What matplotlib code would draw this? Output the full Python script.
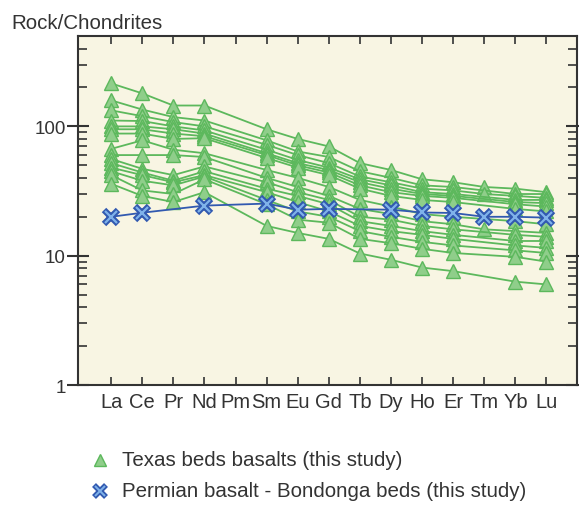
import numpy as np
import matplotlib
matplotlib.use("Agg")
import matplotlib.pyplot as plt
from matplotlib.ticker import LogLocator, NullFormatter, FixedLocator

plt.rcParams['font.family'] = ['Liberation Sans', 'DejaVu Sans']

elements = ["La", "Ce", "Pr", "Nd", "Pm", "Sm", "Eu", "Gd", "Tb", "Dy", "Ho", "Er", "Tm", "Yb", "Lu"]
nan = np.nan

# chondrite-normalised REE, one row per Texas beds sample (Pm never measured, Tm only on a few)
texas = [
    [215, 180, 145, 145, nan, 95, 80, 70, 52, 46, 39, 37, 34, 33, 31],
    [159, 135, 118, 111, nan, 78, 64, 58, 45, 40, 35, 34, nan, 30, 30],
    [133, 120, 108, 100, nan, 72, 60, 52, 41, 37, 33, 32, 30, 29, 28],
    [111, 110, 100, 93, nan, 66, 55, 48, 39, 35, 31, 30, nan, 27, 27],
    [100, 100, 95, 88, nan, 62, 52, 46, 37, 33, 30, 29, nan, 26, 25.5],
    [95, 95, 88, 84, nan, 60, 50, 44, 35, 31, 29, 28, nan, 25, 24],
    [88, 88, 80, 81, nan, 57, 48, 42, 33, 29, 27, 26, nan, 23, 22],
    [67, 78, 66, 62, nan, 46, 40, 34, 27, 24, 21, 20, nan, 18.5, 17.5],
    [60, 60, 60, 58, nan, 40, 34, 29, 23, 21, 18.5, 17.5, 16, 15.5, 15],
    [56, 47, 42, 49, nan, 37, 31, 27, 20, 19, 17, 16, nan, 14.5, 14],
    [52, 44, 38, 45, nan, 33, 29, 25, 18.5, 17, 15.5, 14.5, nan, 13, 13],
    [48, 42, 37, 42, nan, 31, 26, 22, 17, 15.5, 14.5, 13.5, nan, 12, 11.5],
    [45, 38, 35, 41, nan, 27, 22, 20, 15.5, 14, 12.8, 12, nan, 11, 10.5],
    [42, 32, 30, 39, nan, 25, 19, 18, 13.5, 12.5, 11.3, 10.5, nan, 9.8, 9],
    [36, 29, 26, 31, nan, 17, 15, 13.5, 10.4, 9.3, 8.1, 7.6, nan, 6.3, 6],
]
bondonga = [20, 21.5, nan, 24.4, nan, 25.3, 22.7, 23, nan, 22.7, 21.6, 21.4, 20, 20, 19.7]

green_line = "#5cb85c"
green_face = "#8fce8a"
blue_line = "#3159b0"
blue_face = "#7fb2ea"
ink = "#333333"

fig = plt.figure(figsize=(5.79, 5.10), dpi=100)
ax = fig.add_axes([0.135, 0.243, 0.8615, 0.6845])
ax.set_facecolor("#f8f5e3")

x = np.arange(len(elements))
for row in texas:
    y = np.array(row, dtype=float)
    ok = ~np.isnan(y)
    ax.plot(x[ok], y[ok], color=green_line, lw=1.3, marker="^", ms=10,
            mfc=green_face, mec=green_line, mew=1.0, zorder=2)

yb = np.array(bondonga, dtype=float)
ok = ~np.isnan(yb)
ax.plot(x[ok], yb[ok], color=blue_line, lw=1.3, marker="x", ms=10, mew=4.5, zorder=3)
ax.plot(x[ok], yb[ok], ls="none", marker="x", ms=8.5, mew=1.6, color=blue_face, zorder=4)

ax.set_yscale("log")
ax.set_ylim(1, 500)
ax.set_xlim(-1.06, 14.98)

ax.xaxis.set_major_locator(FixedLocator(x))
ax.set_xticklabels(elements)
ax.yaxis.set_major_locator(FixedLocator([1, 10, 100]))
ax.set_yticklabels(["1", "10", "100"])
ax.yaxis.set_minor_locator(LogLocator(base=10, subs=np.arange(2, 10)))
ax.yaxis.set_minor_formatter(NullFormatter())

ax.tick_params(axis="x", which="major", direction="in", length=6, width=1.2,
               top=True, bottom=True, labelsize=14.5, pad=5, colors=ink)
ax.tick_params(axis="y", which="major", direction="inout", length=16, width=1.5,
               left=True, right=True, labelsize=13.5, pad=1, colors=ink)
ax.tick_params(axis="y", which="minor", direction="in", length=6.5, width=1.2,
               left=True, right=True, colors=ink)
for s in ax.spines.values():
    s.set_color(ink)
    s.set_linewidth(1.5)

fig.text(0.02, 0.972, "Rock/Chondrites", fontsize=14.8, color=ink, va="top")

# legend below the plot
lx = 0.172
fig.lines.append(plt.Line2D([lx], [1 - 461 / 510], transform=fig.transFigure,
                            marker="^", ms=9, mfc=green_face, mec=green_line,
                            ls="none"))
fig.lines.append(plt.Line2D([lx], [1 - 492 / 510], transform=fig.transFigure,
                            marker="x", ms=8, mew=4, color=blue_line, ls="none"))
fig.lines.append(plt.Line2D([lx], [1 - 492 / 510], transform=fig.transFigure,
                            marker="x", ms=6.5, mew=1.4, color=blue_face, ls="none"))
fig.text(0.21, 1 - 461 / 510, "Texas beds basalts (this study)", fontsize=14.8,
         color=ink, va="center")
fig.text(0.21, 1 - 492 / 510, "Permian basalt - Bondonga beds (this study)",
         fontsize=14.8, color=ink, va="center")

fig.savefig("out.png", dpi=100)
